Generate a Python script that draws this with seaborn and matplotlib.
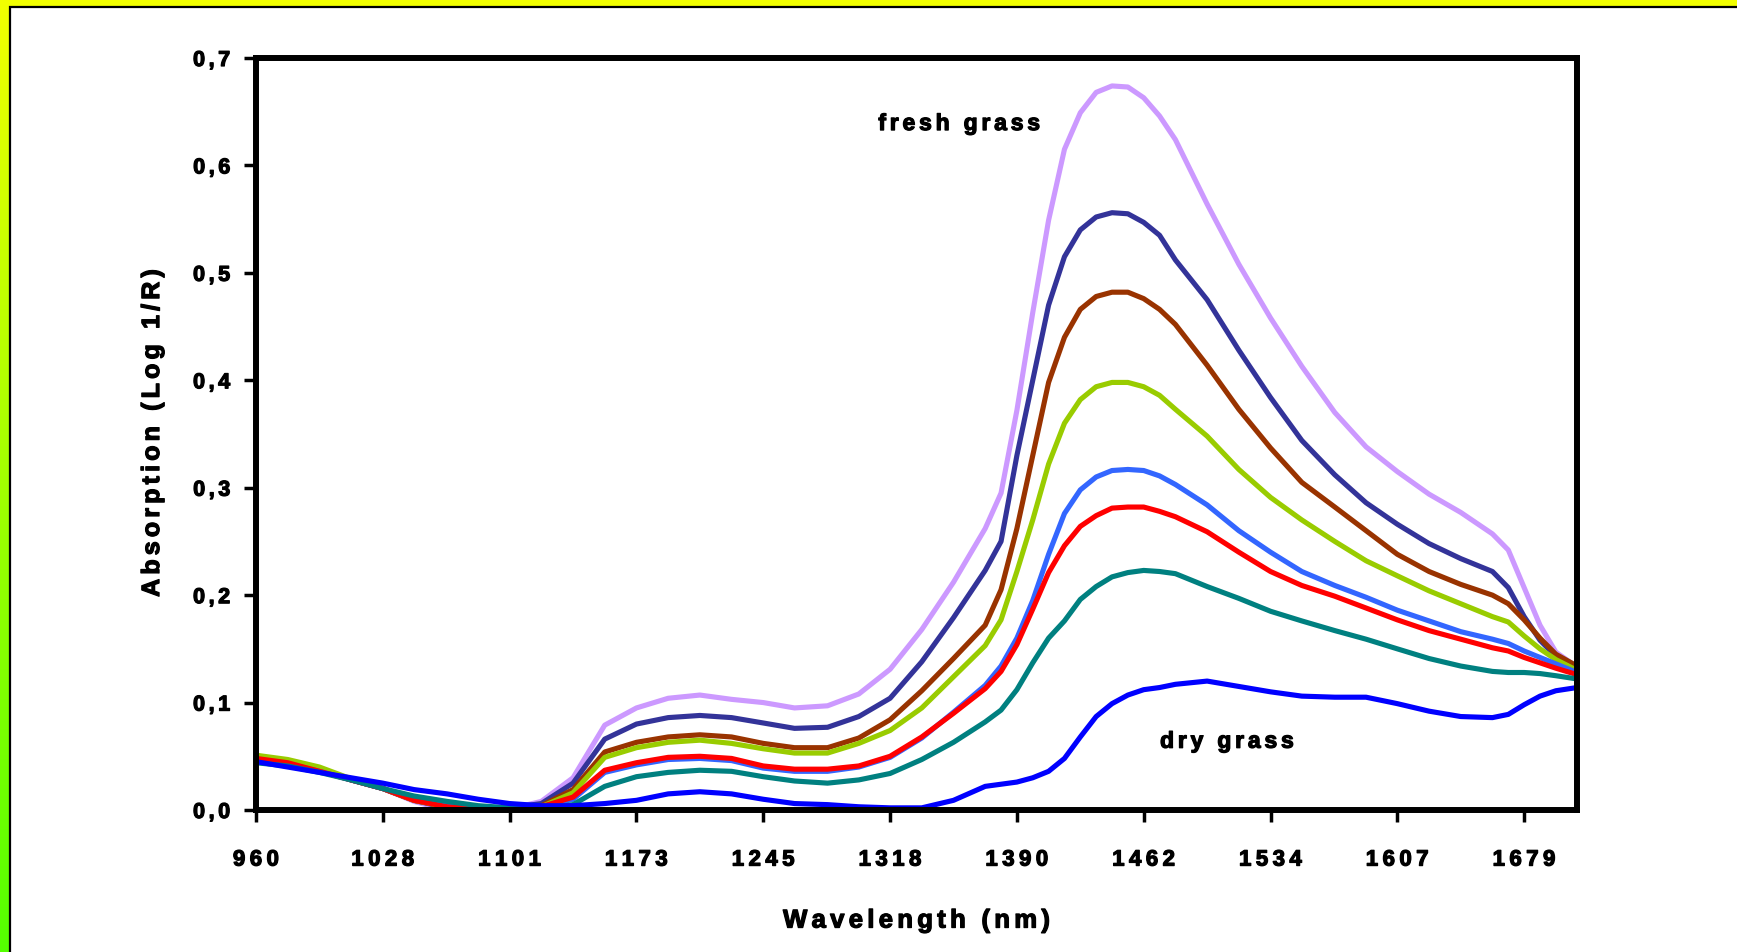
import numpy as np
import pandas as pd
import matplotlib
matplotlib.use("Agg")
import matplotlib.pyplot as plt
import matplotlib.patheffects as pe
import seaborn as sns
from matplotlib.patches import Rectangle

# wavelength samples (nm) and absorption (log 1/R) of each grass sample
wavelength = [960, 977, 994, 1011, 1028, 1046, 1065, 1083, 1101, 1119, 1137, 1155, 1173,
              1191, 1209, 1227, 1245, 1263, 1282, 1300, 1318, 1336, 1354, 1372, 1381, 1390,
              1399, 1408, 1417, 1426, 1435, 1444, 1453, 1462, 1471, 1480, 1498, 1516, 1534,
              1552, 1571, 1589, 1607, 1625, 1643, 1661, 1670, 1679, 1688, 1697, 1709]

lavender = [0.049, 0.045, 0.038, 0.029, 0.020, 0.008, 0.000, -0.002, 0.001, 0.008,
            0.030, 0.079, 0.095, 0.104, 0.107, 0.103, 0.100, 0.095, 0.097, 0.108,
            0.131, 0.168, 0.212, 0.262, 0.295, 0.372, 0.463, 0.549, 0.615, 0.649,
            0.668, 0.674, 0.673, 0.663, 0.646, 0.624, 0.564, 0.508, 0.458, 0.413,
            0.370, 0.338, 0.315, 0.294, 0.277, 0.257, 0.242, 0.207, 0.172, 0.147, 0.133]
navy = [0.048, 0.044, 0.037, 0.028, 0.020, 0.009, 0.002, 0.000, 0.002, 0.006,
        0.025, 0.066, 0.080, 0.086, 0.088, 0.086, 0.081, 0.076, 0.077, 0.087,
        0.104, 0.138, 0.179, 0.223, 0.250, 0.330, 0.400, 0.470, 0.515, 0.540,
        0.552, 0.556, 0.555, 0.547, 0.535, 0.512, 0.475, 0.428, 0.384, 0.344,
        0.312, 0.286, 0.266, 0.248, 0.234, 0.222, 0.207, 0.180, 0.158, 0.143, 0.132]
brown = [0.049, 0.045, 0.038, 0.028, 0.020, 0.009, 0.003, 0.001, 0.002, 0.004,
         0.019, 0.054, 0.063, 0.068, 0.070, 0.068, 0.062, 0.058, 0.058, 0.067,
         0.084, 0.111, 0.141, 0.172, 0.205, 0.262, 0.330, 0.398, 0.440, 0.466,
         0.478, 0.482, 0.482, 0.476, 0.466, 0.452, 0.414, 0.373, 0.337, 0.305,
         0.282, 0.260, 0.238, 0.222, 0.210, 0.200, 0.192, 0.177, 0.160, 0.145, 0.134]
green = [0.051, 0.047, 0.040, 0.029, 0.020, 0.009, 0.003, 0.001, 0.002, 0.003,
         0.016, 0.049, 0.058, 0.063, 0.065, 0.062, 0.057, 0.053, 0.053, 0.062,
         0.074, 0.095, 0.124, 0.153, 0.177, 0.222, 0.270, 0.322, 0.360, 0.382,
         0.394, 0.398, 0.398, 0.394, 0.386, 0.373, 0.348, 0.317, 0.291, 0.270,
         0.250, 0.232, 0.218, 0.204, 0.192, 0.180, 0.175, 0.162, 0.150, 0.140, 0.130]
light_blue = [0.046, 0.043, 0.036, 0.028, 0.020, 0.010, 0.004, 0.001, 0.002, 0.003,
              0.010, 0.035, 0.042, 0.047, 0.048, 0.046, 0.039, 0.036, 0.036, 0.040,
              0.049, 0.067, 0.091, 0.116, 0.134, 0.160, 0.195, 0.238, 0.276, 0.298,
              0.310, 0.316, 0.317, 0.316, 0.311, 0.303, 0.284, 0.260, 0.240, 0.222,
              0.209, 0.198, 0.186, 0.176, 0.166, 0.159, 0.155, 0.148, 0.142, 0.136, 0.128]
red = [0.048, 0.044, 0.036, 0.028, 0.020, 0.009, 0.003, 0.001, 0.002, 0.003,
       0.012, 0.037, 0.044, 0.049, 0.050, 0.048, 0.041, 0.038, 0.038, 0.041,
       0.050, 0.068, 0.090, 0.113, 0.129, 0.154, 0.187, 0.221, 0.246, 0.264,
       0.274, 0.281, 0.282, 0.282, 0.278, 0.273, 0.259, 0.240, 0.222, 0.209,
       0.199, 0.188, 0.177, 0.167, 0.159, 0.151, 0.148, 0.142, 0.137, 0.132, 0.126]
teal = [0.044, 0.041, 0.035, 0.028, 0.020, 0.013, 0.008, 0.004, 0.002, 0.001,
        0.005, 0.022, 0.031, 0.035, 0.037, 0.036, 0.031, 0.027, 0.025, 0.028,
        0.034, 0.047, 0.063, 0.082, 0.093, 0.112, 0.137, 0.160, 0.176, 0.196,
        0.208, 0.217, 0.221, 0.223, 0.222, 0.220, 0.208, 0.197, 0.185, 0.176,
        0.167, 0.159, 0.150, 0.141, 0.134, 0.129, 0.128, 0.128, 0.127, 0.125, 0.122]
dry = [0.045, 0.040, 0.035, 0.030, 0.025, 0.019, 0.015, 0.010, 0.006, 0.004,
       0.004, 0.006, 0.009, 0.015, 0.017, 0.015, 0.010, 0.006, 0.005, 0.003,
       0.002, 0.002, 0.009, 0.022, 0.024, 0.026, 0.030, 0.036, 0.048, 0.068,
       0.087, 0.099, 0.107, 0.112, 0.114, 0.117, 0.120, 0.115, 0.110, 0.106,
       0.105, 0.105, 0.099, 0.092, 0.087, 0.086, 0.089, 0.098, 0.106, 0.111, 0.114]

series = {"s1": lavender, "s2": navy, "s3": brown, "s4": green,
          "s5": light_blue, "s6": red, "s7": teal, "s8": dry}
colors = {"s1": "#CC99FF", "s2": "#333399", "s3": "#993300", "s4": "#99CC00",
          "s5": "#3366FF", "s6": "#FF0000", "s7": "#008080", "s8": "#0000FF"}

tick_nm = [960, 1028, 1101, 1173, 1245, 1318, 1390, 1462, 1534, 1607, 1679]
y_ticks = [0.0, 0.1, 0.2, 0.3, 0.4, 0.5, 0.6, 0.7]
y_labels = ["0,0", "0,1", "0,2", "0,3", "0,4", "0,5", "0,6", "0,7"]

df = pd.concat([pd.DataFrame({"wl": wavelength, "absorption": v, "sample": k})
                for k, v in series.items()], ignore_index=True)

sns.set_theme(style="white")
plt.rcParams["font.family"] = ["Liberation Sans", "DejaVu Sans"]
plt.rcParams["font.weight"] = "bold"

THIN = "\u2009"    # 1/5 em
SIXTH = "\u2006"   # 1/6 em
heavy = [pe.withStroke(linewidth=0.9, foreground="black")]


def spaced(s, gap=SIXTH):
    # Excel-like letter spacing
    return gap.join(s)


W, H = 1737, 952
fig = plt.figure(figsize=(W / 100, H / 100), dpi=100)

# frame: yellow->green gradient on top/left edge, white chart area
bg = fig.add_axes([0, 0, 1, 1], zorder=-10)
grad = np.linspace(0, 1, 256)[:, None]
top_c = np.array([0.95, 1.0, 0.0])
bot_c = np.array([0.33, 1.0, 0.0])
img = top_c[None, None, :] * (1 - grad[:, :, None]) + bot_c[None, None, :] * grad[:, :, None]
bg.imshow(img, aspect="auto", extent=[0, W, H, 0])
bg.add_patch(Rectangle((10, 7), W + 50, H + 50, facecolor="white",
                       edgecolor="black", linewidth=1.6))
bg.set_xlim(0, W)
bg.set_ylim(H, 0)
bg.axis("off")

ax = fig.add_axes([256 / W, 1 - 810 / H, (1577 - 256) / W, (810 - 58) / H])
ax.set_facecolor("white")

anchor_nm = np.array([0] + tick_nm + [3000], dtype=float)
anchor_pos = np.array([-960 / 68] + list(range(11)) + [10 + (3000 - 1679) / 72], dtype=float)
ax.set_xscale("function", functions=(lambda w: np.interp(w, anchor_nm, anchor_pos),
                                      lambda p: np.interp(p, anchor_pos, anchor_nm)))

sns.lineplot(data=df, x="wl", y="absorption", hue="sample", hue_order=list(series),
             palette=colors, linewidth=3.7, legend=False, ax=ax)

ax.set_xlim(960, 1709)
ax.set_ylim(0, 0.7)
ax.set_xticks(tick_nm)
ax.set_xticklabels([spaced(str(t), THIN) for t in tick_nm])
ax.set_yticks(y_ticks)
ax.set_yticklabels([spaced(s) for s in y_labels])
ax.minorticks_off()

for sp in ax.spines.values():
    sp.set_visible(True)
    sp.set_color("black")
    sp.set_linewidth(4.3)
ax.tick_params(axis="both", which="major", direction="out", length=8.5, width=2.5,
               color="black", labelcolor="black")
ax.tick_params(axis="x", pad=20, bottom=True, labelsize=16)
ax.tick_params(axis="y", pad=10, left=True, labelsize=15.5)
for lab in ax.get_xticklabels() + ax.get_yticklabels():
    lab.set_fontweight("bold")
    lab.set_path_effects(heavy)

ax.set_xlabel(spaced("Wavelength (nm)"), fontsize=18.5, fontweight="bold", color="black")
ax.set_ylabel(spaced("Absorption (Log 1/R)"), fontsize=18, fontweight="bold", color="black")
ax.xaxis.set_label_coords(0.5, -0.147)
ax.xaxis.label.set_va("center")
ax.xaxis.label.set_path_effects(heavy)
ax.yaxis.set_label_coords(-0.0787, 0.501)
ax.yaxis.label.set_va("center")
ax.yaxis.label.set_path_effects(heavy)

ax.text(1357, 0.639, spaced("fresh grass"), fontsize=16.5, fontweight="bold",
        ha="center", va="center", color="black", path_effects=heavy)
ax.text(1509, 0.064, spaced("dry grass"), fontsize=16.5, fontweight="bold",
        ha="center", va="center", color="black", path_effects=heavy)

fig.savefig("out.png", dpi=100)
